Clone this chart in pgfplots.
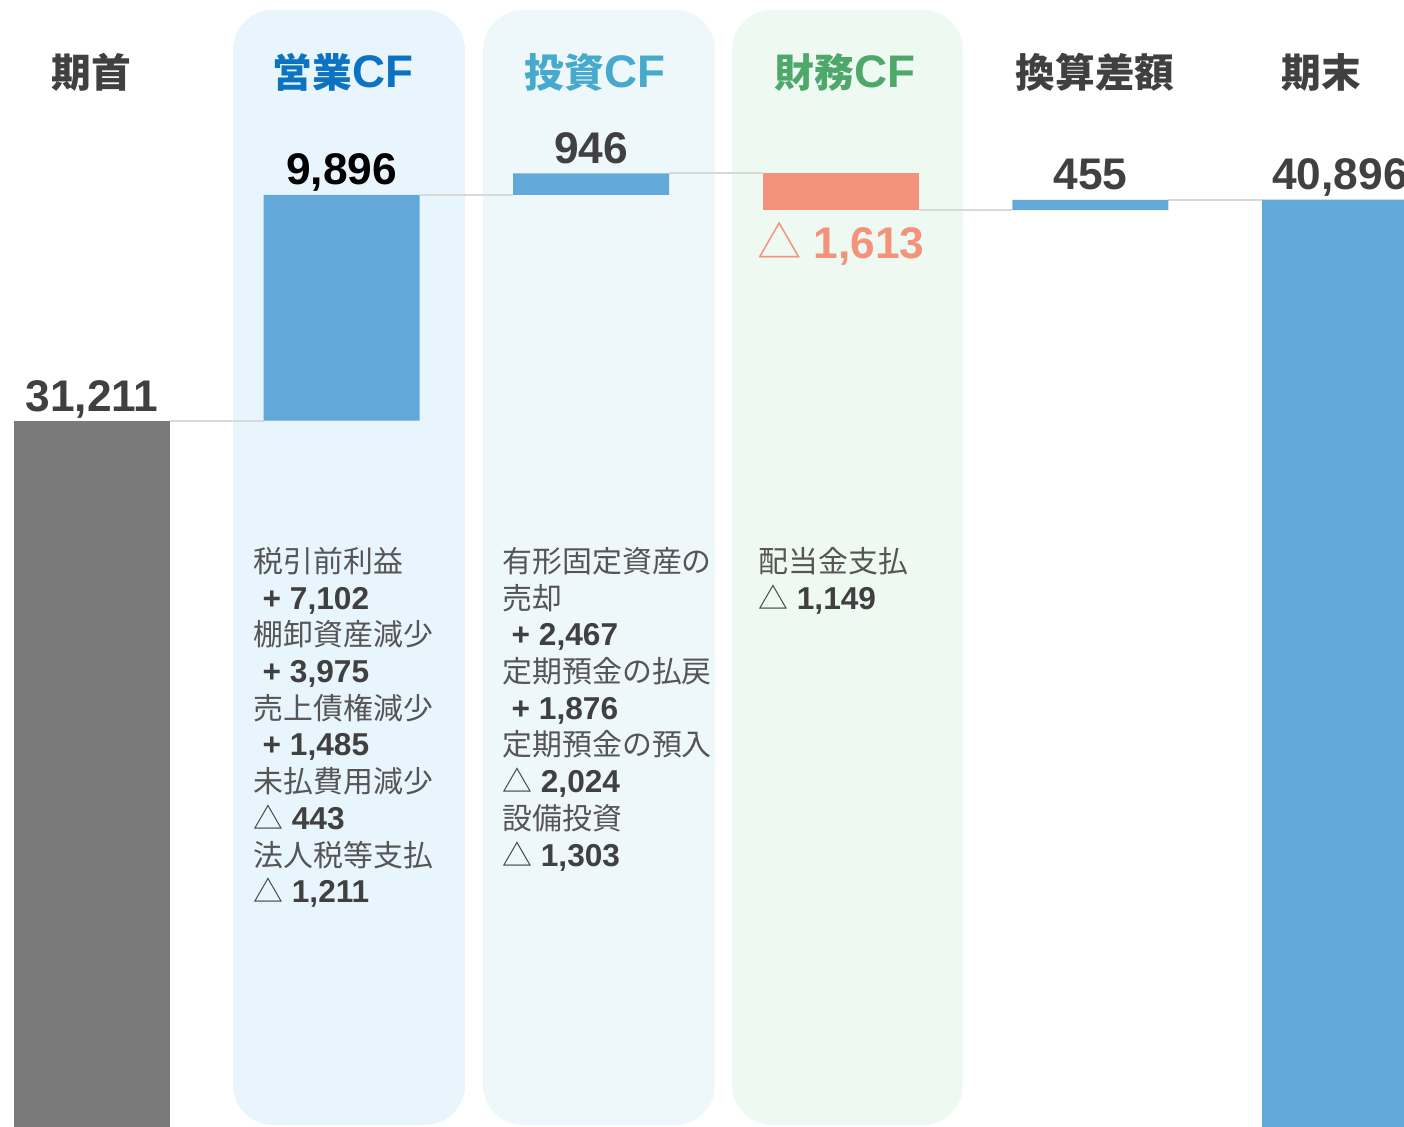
\documentclass[border=0pt]{standalone}
\usepackage{pgfplots}
\pgfplotsset{compat=1.18}
\usepackage{fontspec}
\setmainfont{Liberation Sans}
\newfontfamily\cjk{Noto Sans CJK JP}
\definecolor{barblue}{HTML}{62A9D9}
\definecolor{bargray}{HTML}{7A7A7A}
\definecolor{barsalmon}{HTML}{F4937B}
\definecolor{panelA}{HTML}{E9F5FD}
\definecolor{panelB}{HTML}{EEF7FA}
\definecolor{panelC}{HTML}{EEF9F2}
\definecolor{titleA}{HTML}{0C72C2}
\definecolor{titleB}{HTML}{45AACB}
\definecolor{titleC}{HTML}{4DA86A}
\definecolor{txt}{HTML}{404040}
\definecolor{dtxt}{HTML}{555555}
\definecolor{conn}{HTML}{D9D9D9}
\newcommand{\tfont}{\fontsize{11.3}{13}\selectfont\bfseries}
\newcommand{\cf}{{\fontsize{13}{14}\selectfont CF}}
\newcommand{\vfont}{\fontsize{12.6}{14}\selectfont\bfseries}
\newcommand{\dfont}{\fontsize{8.5}{10}\selectfont}
\newcommand{\djp}[1]{{\cjk\color{dtxt}#1}}
\newcommand{\dnum}[1]{{\fontsize{9}{10}\selectfont\bfseries\color{txt}#1}}
\newcommand{\tri}{{\cjk\color{txt}△}}
\begin{document}
\begin{tikzpicture}
\clip (0,0) rectangle (140.4mm,112.7mm);
\begin{scope}[x=0.1mm,y=-0.1mm,shift={(0,112.7mm)}]
  \fill[panelA, rounded corners=4mm] (233,10) rectangle (465,1125);
  \fill[panelB, rounded corners=4mm] (483,10) rectangle (715,1125);
  \fill[panelC, rounded corners=4mm] (732,10) rectangle (963,1125);
\end{scope}
\begin{axis}[at={(0,0)}, anchor=south west, width=140.4mm, height=112.7mm,
  scale only axis, xmin=-0.3686, xmax=5.2564, ymin=241, ymax=49655,
  hide axis, ybar stacked, bar width=15.6mm, clip=false]
\addplot[draw=none, fill=none] coordinates {(0,0) (1,31211) (2,41107) (3,40440) (4,40440) (5,0)};
\addplot[draw=none, fill=bargray] coordinates {(0,31211) (1,0) (2,0) (3,0) (4,0) (5,0)};
\addplot[draw=none, fill=barblue] coordinates {(0,0) (1,9896) (2,946) (3,0) (4,455) (5,40896)};
\addplot[draw=none, fill=barsalmon] coordinates {(0,0) (1,0) (2,0) (3,1613) (4,0) (5,0)};
\draw[conn, line width=0.2mm] (axis cs:0.3125,31211) -- (axis cs:0.6875,31211);
\draw[conn, line width=0.2mm] (axis cs:1.3125,41107) -- (axis cs:1.6875,41107);
\draw[conn, line width=0.2mm] (axis cs:2.3125,42053) -- (axis cs:2.6875,42053);
\draw[conn, line width=0.2mm] (axis cs:3.3125,40440) -- (axis cs:3.6875,40440);
\draw[conn, line width=0.2mm] (axis cs:4.3125,40895) -- (axis cs:4.6875,40895);
\node[anchor=base, font=\vfont, text=txt, inner sep=0, yshift=0.9mm] at (axis cs:0,31211) {31,211};
\node[anchor=base, font=\vfont, text=black, inner sep=0, yshift=1.0mm] at (axis cs:1,41107) {9,896};
\node[anchor=base, font=\vfont, text=txt, inner sep=0, yshift=1.0mm] at (axis cs:2,42053) {946};
\node[anchor=base, font=\vfont, text=barsalmon, inner sep=0, yshift=-4.87mm] at (axis cs:3,40440) {{\cjk\mdseries △} 1,613};
\node[anchor=base, font=\vfont, text=txt, inner sep=0, yshift=1.0mm] at (axis cs:4,40895) {455};
\node[anchor=base, font=\vfont, text=txt, inner sep=0, yshift=1.0mm] at (axis cs:5,40895) {40,896};
\end{axis}
\begin{scope}[x=0.1mm,y=-0.1mm,shift={(0,112.7mm)}]
  \node[anchor=base, font=\tfont, text=txt, inner sep=0] at (91,88) {\cjk 期首};
  \node[anchor=base, font=\tfont, text=titleA, inner sep=0] at (343,88) {{\cjk 営業}\cf};
  \node[anchor=base, font=\tfont, text=titleB, inner sep=0] at (595,88) {{\cjk 投資}\cf};
  \node[anchor=base, font=\tfont, text=titleC, inner sep=0] at (845,88) {{\cjk 財務}\cf};
  \node[anchor=base, font=\tfont, text=txt, inner sep=0] at (1095,88) {\cjk 換算差額};
  \node[anchor=base, font=\tfont, text=txt, inner sep=0] at (1321,88) {\cjk 期末};
  % operating CF details
  \foreach \k/\xx/\t in {0/253/{\djp{税引前利益}}, 1/262/{\dnum{+ 7,102}}, 2/253/{\djp{棚卸資産減少}}, 3/262/{\dnum{+ 3,975}},
     4/253/{\djp{売上債権減少}}, 5/262/{\dnum{+ 1,485}}, 6/253/{\djp{未払費用減少}}, 7/253/{\tri\ \dnum{443}},
     8/253/{\djp{法人税等支払}}, 9/253/{\tri\ \dnum{1,211}}}
    \node[anchor=base west, inner sep=0, font=\dfont] at (\xx,{572.5+36.7*\k}) {\t};
  % investing CF details
  \foreach \k/\xx/\t in {0/502/{\djp{有形固定資産の}}, 1/502/{\djp{売却}}, 2/511/{\dnum{+ 2,467}}, 3/502/{\djp{定期預金の払戻}},
     4/511/{\dnum{+ 1,876}}, 5/502/{\djp{定期預金の預入}}, 6/502/{\tri\ \dnum{2,024}}, 7/502/{\djp{設備投資}}, 8/502/{\tri\ \dnum{1,303}}}
    \node[anchor=base west, inner sep=0, font=\dfont] at (\xx,{572.5+36.7*\k}) {\t};
  % financing CF details
  \foreach \k/\xx/\t in {0/758/{\djp{配当金支払}}, 1/758/{\tri\ \dnum{1,149}}}
    \node[anchor=base west, inner sep=0, font=\dfont] at (\xx,{572.5+36.7*\k}) {\t};
\end{scope}
\end{tikzpicture}
\end{document}
